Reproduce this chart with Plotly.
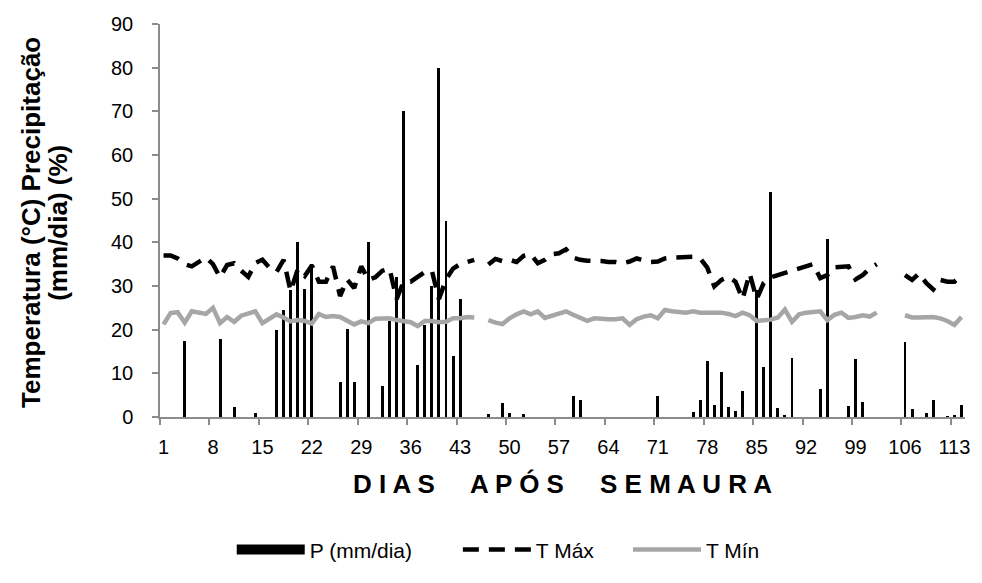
import plotly.graph_objects as go

# Days after sowing (1..114)
days = list(range(1, 115))
tick_days = list(range(1, 115, 7))

# Daily rainfall (mm/dia) on the days it rained
rain_days = [4, 9, 11, 14, 17, 18, 19, 20, 21, 22, 26, 27, 28, 30, 32, 33, 34, 35, 37, 38,
             39, 40, 41, 42, 43, 47, 49, 50, 52, 59, 60, 71, 76, 77, 78, 79, 80, 81, 82, 83,
             85, 86, 87, 88, 89, 90, 94, 95, 98, 99, 100, 106, 107, 109, 110, 112, 113, 114]
rain_mm = [17.3, 17.9, 2.2, 0.9, 20.0, 24.4, 29.0, 40.0, 29.2, 35.0, 8.1, 20.1, 8.1, 40.0, 7.1,
           22.0, 32.0, 70.0, 12.0, 21.0, 30.0, 80.0, 45.0, 14.0, 27.0, 0.8, 3.2, 1.0, 0.6, 4.9,
           3.8, 4.9, 1.1, 4.0, 12.9, 2.7, 10.2, 2.3, 1.3, 6.0, 29.0, 11.5, 51.6, 2.0, 0.3, 13.5,
           6.3, 40.8, 2.5, 13.3, 3.5, 17.1, 1.8, 1.0, 4.0, 0.2, 0.5, 2.8]

# Daily maximum temperature (°C); None = missing record
t_max = [37.0, 37.0, 36.3, 35.0, 34.5, 35.5, 36.5, 35.0, 32.0, 34.8,
         35.2, 33.5, 32.1, 35.3, 36.0, 34.2, 33.2, 36.0, 28.8, 33.8,
         32.3, 34.7, 31.0, 31.0, 34.5, 27.7, 31.5, 29.5, 34.5, 31.4,
         32.0, 33.5, 34.0, 27.0, 31.0, 31.0, 32.0, 33.2, 33.5, 27.0,
         31.5, 34.0, 35.0, 35.5, 36.0, None, 34.9, 36.2, 35.7, 36.0,
         35.5, 36.9, 37.3, 35.2, 36.0, 37.3, 37.5, 38.4, 36.5, 36.0,
         35.8, 35.8, 35.7, 35.5, 35.5, 35.2, 35.6, 36.3, 36.0, 35.5,
         35.6, 36.3, 36.5, 36.5, 36.5, 36.7, 36.3, 34.2, 29.9, 31.4,
         32.1, 31.0, 27.0, 32.9, 27.0, 30.7, 32.0, 32.5, 33.2, 33.5,
         34.0, 34.5, 35.0, 31.8, 32.5, 34.3, 34.3, 34.5, 31.5, 32.5,
         34.0, 35.0, None, None, None, 32.5, 31.4, 32.9, 30.7, 29.2,
         31.4, 31.0, 31.0, 32.5]

# Daily minimum temperature (°C); None = missing record
t_min = [21.2, 23.8, 24.0, 21.6, 24.2, 23.8, 23.6, 25.0, 21.5, 22.9,
         21.8, 23.2, 23.8, 24.2, 21.5, 22.5, 23.5, 22.8, 21.9, 22.2,
         22.0, 21.4, 23.6, 22.9, 23.1, 22.9, 22.0, 21.2, 21.9, 21.5,
         22.5, 22.6, 22.6, 22.2, 22.0, 21.7, 20.8, 22.0, 22.0, 21.7,
         21.8, 22.6, 22.6, 22.9, 22.8, None, 22.2, 21.6, 21.3, 22.6,
         23.5, 24.2, 23.5, 24.2, 22.7, 23.2, 23.7, 24.2, 23.4, 22.6,
         22.0, 22.6, 22.4, 22.4, 22.4, 22.6, 21.1, 22.4, 23.0, 23.3,
         22.6, 24.5, 24.2, 24.0, 23.9, 24.2, 23.9, 23.9, 23.9, 23.9,
         23.6, 23.1, 23.9, 23.3, 22.0, 22.2, 22.3, 22.8, 24.6, 21.8,
         23.5, 23.9, 24.0, 24.2, 22.2, 23.4, 23.9, 22.7, 22.9, 23.3,
         23.0, 23.9, None, None, None, 23.3, 22.8, 22.8, 22.9, 22.9,
         22.6, 22.0, 21.1, 22.9]

rain_by_day = dict(zip(rain_days, rain_mm))
precip = [rain_by_day.get(d, 0.0) for d in days]

FONT = "Liberation Sans, Arial, sans-serif"
AXIS_GREY = "#8c8c8c"

# plot-area geometry in pixels
W, H = 982, 583
ML, MR, MT, MB = 160, 14, 24, 151
PW, PH = W - ML - MR, H - MT - MB


def px_x(px):
    return (px - ML) / PW


def px_y(py):
    return (H - MB - py) / PH


fig = go.Figure()

# Legend entry for rainfall drawn as a wide black block
fig.add_trace(go.Scatter(x=[None], y=[None], mode="lines",
                         name="P (mm/dia)" + "\u00a0" * 7,
                         line=dict(color="black", width=14)))

fig.add_trace(go.Bar(x=days, y=precip, name="P (mm/dia)", showlegend=False,
                     marker=dict(color="black", line=dict(width=0)), width=0.42))

fig.add_trace(go.Scatter(x=days, y=t_max, mode="lines",
                         name="T Máx" + "\u00a0" * 5,
                         connectgaps=False,
                         line=dict(color="black", width=4.5, dash="16px,10px")))

fig.add_trace(go.Scatter(x=days, y=t_min, mode="lines", name="T Mín",
                         connectgaps=False,
                         line=dict(color="#a6a6a6", width=4.5)))

fig.update_layout(
    width=W, height=H,
    margin=dict(l=ML, r=MR, t=MT, b=MB),
    paper_bgcolor="white", plot_bgcolor="white",
    font=dict(family=FONT, size=20, color="black"),
    showlegend=True,
    legend=dict(orientation="h", x=px_x(232), xanchor="left",
                y=px_y(570), yanchor="middle",
                font=dict(size=21), itemwidth=68, tracegroupgap=0,
                traceorder="normal"),
    bargap=0,
)

fig.update_xaxes(
    range=[0.5, 114.5],
    tickmode="array", tickvals=tick_days, ticktext=[str(d) for d in tick_days],
    ticks="", showgrid=False, zeroline=False,
    showline=True, linecolor=AXIS_GREY, linewidth=1.5,
    tickfont=dict(size=20), ticklabelstandoff=11,
    minor=dict(tickmode="linear", tick0=0.5, dtick=7, ticks="outside",
               ticklen=6, tickcolor=AXIS_GREY, tickwidth=1.5, showgrid=False),
)

fig.update_yaxes(
    range=[0, 90], dtick=10, tick0=0,
    ticks="outside", ticklen=6, tickcolor=AXIS_GREY, tickwidth=1.5,
    showgrid=False, zeroline=False,
    showline=True, linecolor=AXIS_GREY, linewidth=1.5,
    tickfont=dict(size=20), ticklabelstandoff=15,
)

# x-axis title, letter-spaced
fig.add_annotation(
    text="<b>D I A S     A P Ó S     S E M A U R A</b>",
    xref="paper", yref="paper", x=0.5, y=px_y(502),
    xanchor="center", yanchor="middle", showarrow=False,
    font=dict(size=26, family=FONT, color="black"),
)

# Two-line bold y-axis title
fig.add_annotation(
    text="<b>Temperatura (°C) Precipitação</b>",
    xref="paper", yref="paper", x=px_x(31), y=px_y(230),
    xanchor="center", yanchor="middle", textangle=-90, showarrow=False,
    font=dict(size=26, family=FONT, color="black"),
)
fig.add_annotation(
    text="<b>(mm/dia) (%)</b>",
    xref="paper", yref="paper", x=px_x(58), y=px_y(230),
    xanchor="center", yanchor="middle", textangle=-90, showarrow=False,
    font=dict(size=26, family=FONT, color="black"),
)

fig.write_html("out.html")
